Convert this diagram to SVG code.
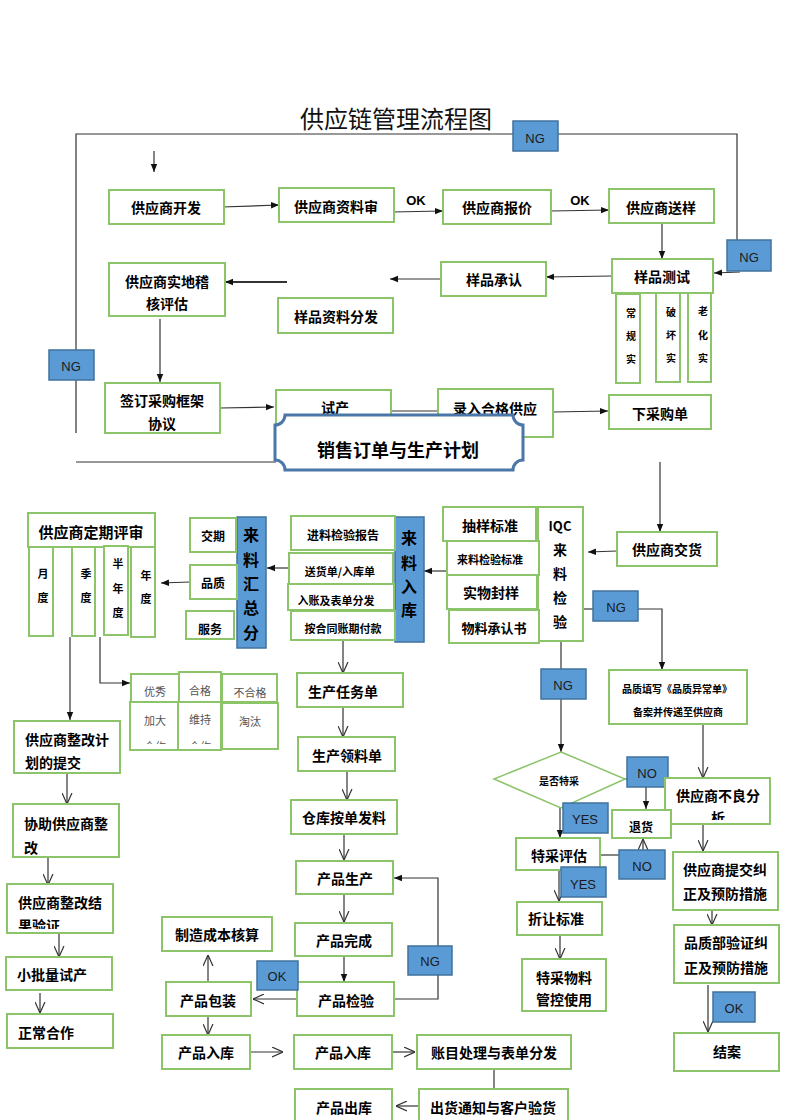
<svg xmlns="http://www.w3.org/2000/svg" width="792" height="1120" viewBox="0 0 792 1120">
<style>
.b{fill:#fff;stroke:#8CC46A;stroke-width:2}
.bl{fill:#5B9BD5;stroke:#41719C;stroke-width:1.5}
.t{font-family:"Noto Sans CJK SC","Noto Sans",sans-serif;font-weight:bold;font-size:14px;fill:#000;text-anchor:middle;dominant-baseline:central}
.s{text-anchor:start}
.f10{font-size:10px}.f11{font-size:11px}.f12{font-size:12px}.f13{font-size:13px}.f15{font-size:15px}.f16{font-size:16px}
.g{font-family:"Noto Sans CJK SC",sans-serif;font-size:11px;fill:#555;text-anchor:middle;dominant-baseline:central}
.n{font-family:"Liberation Sans","Open Sans",sans-serif;font-size:13px;fill:#1a1a1a;text-anchor:middle;dominant-baseline:central}
.c{stroke:#333;stroke-width:1.2;fill:none}
.cf{marker-end:url(#af)}
.co{marker-end:url(#ao)}
</style>
<defs>
<marker id="af" viewBox="0 0 10 10" refX="10" refY="5" markerWidth="8" markerHeight="8" orient="auto" markerUnits="userSpaceOnUse"><path d="M0,1 L10,5 L0,9 z" fill="#111"/></marker>
<marker id="ao" viewBox="0 0 10 10" refX="10" refY="5" markerWidth="11" markerHeight="11" orient="auto" markerUnits="userSpaceOnUse"><path d="M0,0.5 L10,5 L0,9.5" fill="none" stroke="#333" stroke-width="1.1"/></marker>
<clipPath id="k1"><rect x="130" y="702" width="49" height="42"/></clipPath>
<clipPath id="k2"><rect x="178" y="702" width="43" height="42"/></clipPath>
<clipPath id="k3"><rect x="7" y="884" width="106" height="45"/></clipPath>
<clipPath id="k4"><rect x="665" y="778" width="105" height="42"/></clipPath>
</defs>
<rect width="792" height="1120" fill="#fff"/>
<text x="396" y="117" font-family="'Noto Sans CJK SC',sans-serif" font-size="24" fill="#111" text-anchor="middle" dominant-baseline="central">供应链管理流程图</text>

<g id="connectors">
<path class="c" d="M76,433 V134 H737 V240"/>
<path class="c" d="M76,462 H276"/>
<path class="c cf" d="M154,151 V172"/>
<path class="c cf" d="M222,207 L279,205"/>
<path class="c cf" d="M392,212 L443,211"/>
<path class="c cf" d="M551,211 L609,210"/>
<path class="c cf" d="M662,223 V259"/>
<path class="c cf" d="M740,272 L714,273"/>
<path class="c cf" d="M612,276 L546,277"/>
<path class="c cf" d="M441,279 L390,279"/>
<path class="c cf" style="stroke-width:2" d="M287,282 L225,282"/>
<path class="c cf" d="M160,319 V382"/>
<path class="c cf" d="M220,408 L274,407"/>
<path class="c cf" d="M389,411 L445,411"/>
<path class="c cf" d="M553,412 L608,411"/>
<path class="c cf" d="M660,462 V532"/>
<path class="c cf" d="M617,551 L588,552"/>
<path class="c cf" d="M447,571 L424,571"/>
<path class="c cf" d="M289,568 L267,568"/>
<path class="c cf" d="M190,582 L161,583"/>
<path class="c cf" d="M70,637 V720"/>
<path class="c cf" d="M100,637 V683 H130"/>
<path class="c" d="M583,609 H593"/>
<path class="c cf" d="M638,609 H662 V670"/>
<path class="c cf" d="M561,641 V752"/>
<path class="c co" d="M703,724 V778"/>
<path class="c" d="M625,779 H664"/>
<path class="c cf" d="M646,779 V809"/>
<path class="c cf" d="M560,808 V838"/>
<path class="c" d="M600,855 H620"/>
<path class="c co" d="M643,850 V839"/>
<path class="c co" d="M559,870 V901"/>
<path class="c co" d="M560,935 V959"/>
<path class="c co" d="M703,824 V851"/>
<path class="c co" d="M712,910 V925"/>
<path class="c co" d="M708,985 V1032"/>
<path class="c co" d="M343,640 V673"/>
<path class="c co" d="M343,707 V737"/>
<path class="c co" d="M347,771 V800"/>
<path class="c co" d="M344,834 V860"/>
<path class="c co" d="M344,894 V922"/>
<path class="c cf" d="M344,956 V982"/>
<path class="c cf" d="M394,999 H438 V878 H394"/>
<path class="c co" d="M297,999 H253"/>
<path class="c co" d="M208,982 V955"/>
<path class="c co" d="M208,1016 V1035"/>
<path class="c co" d="M250,1052 H283"/>
<path class="c co" d="M392,1052 H415"/>
<path class="c" d="M494,1069 V1089"/>
<path class="c co" d="M419,1106 H396"/>
<path class="c co" d="M67,773 V804"/>
<path class="c co" d="M48,857 V885"/>
<path class="c co" d="M59,933 V957"/>
<path class="c co" d="M40,993 V1013"/>
</g>

<g id="n-kaifa"><rect class="b" x="109" y="190" width="115" height="34"/><text class="t" x="166" y="207">供应商开发</text></g>
<g id="n-ziliao"><rect class="b" x="279" y="188" width="115" height="34"/><text class="t" x="336" y="206">供应商资料审</text></g>
<g id="n-baojia"><rect class="b" x="443" y="190" width="108" height="34"/><text class="t" x="497" y="207">供应商报价</text></g>
<g id="n-songyang"><rect class="b" x="609" y="189" width="105" height="34"/><text class="t" x="661" y="207">供应商送样</text></g>
<g id="n-ceshi"><rect class="b" x="612" y="259" width="101" height="34"/><text class="t" x="662" y="276">样品测试</text></g>
<g id="n-changgui"><rect class="b" x="616" y="294" width="24" height="89"/><text class="t f10" x="631" y="312">常</text><text class="t f10" x="631" y="335">规</text><text class="t f10" x="631" y="358">实</text></g>
<g id="n-pohuai"><rect class="b" x="656" y="293" width="24" height="89"/><text class="t f10" x="671" y="311">破</text><text class="t f10" x="671" y="334">坏</text><text class="t f10" x="671" y="357">实</text></g>
<g id="n-laohua"><rect class="b" x="688" y="293" width="23" height="89"/><text class="t f10" x="703" y="310">老</text><text class="t f10" x="703" y="334">化</text><text class="t f10" x="703" y="357">实</text></g>
<g id="n-chengren"><rect class="b" x="441" y="262" width="105" height="34"/><text class="t" x="494" y="279">样品承认</text></g>
<g id="n-jihe"><rect class="b" x="109" y="263" width="116" height="53"/><text class="t" x="167" y="281">供应商实地稽</text><text class="t" x="167" y="303">核评估</text></g>
<g id="n-fenfa"><rect class="b" x="278" y="298" width="115" height="35"/><text class="t" x="336" y="316">样品资料分发</text></g>
<g id="n-qianding"><rect class="b" x="105" y="383" width="115" height="50"/><text class="t" x="162" y="400">签订采购框架</text><text class="t" x="162" y="423">协议</text></g>
<g id="n-shichan"><rect class="b" x="276" y="390" width="115" height="46"/><text class="t" x="335" y="407">试产</text></g>
<g id="n-luru"><rect class="b" x="438" y="389" width="115" height="48"/><text class="t" x="495" y="408">录入合格供应</text></g>
<g id="n-xiadan"><rect class="b" x="609" y="395" width="102" height="34"/><text class="t" x="660" y="413">下采购单</text></g>
<g id="n-xiaoshou"><path d="M285,415 H513 A10,10 0 0 0 523,425 V460 A10,10 0 0 0 513,470 H285 A10,10 0 0 0 275,460 V425 A10,10 0 0 0 285,415 Z" fill="#fff" stroke="#4A77A8" stroke-width="3"/><text class="t" style="font-size:18px" x="398" y="449">销售订单与生产计划</text></g>

<g id="ng-top"><rect class="bl" x="513" y="121" width="45" height="30"/><text class="n" x="535" y="138">NG</text></g>
<g id="ng-right"><rect class="bl" x="727" y="240" width="44" height="31"/><text class="n" x="749" y="257">NG</text></g>
<g id="ng-left"><rect class="bl" x="49" y="350" width="45" height="30"/><text class="n" x="71" y="366">NG</text></g>

<g id="n-jiaohuo"><rect class="b" x="617" y="532" width="100" height="34"/><text class="t" x="667" y="549">供应商交货</text></g>
<g id="n-iqc"><rect class="b" x="538" y="507" width="45" height="134"/><text class="t f13" x="560" y="525">IQC</text><text class="t" x="560" y="549">来</text><text class="t" x="560" y="573">料</text><text class="t" x="560" y="597">检</text><text class="t" x="560" y="621">验</text></g>
<g id="n-chouyang"><rect class="b" x="443" y="507" width="93" height="34"/><text class="t" x="490" y="525">抽样标准</text></g>
<g id="n-jianyanbz"><rect class="b" x="447" y="541" width="92" height="34"/><text class="t f11" x="490" y="559">来料检验标准</text></g>
<g id="n-fengyang"><rect class="b" x="447" y="575" width="90" height="34"/><text class="t" x="491" y="592">实物封样</text></g>
<g id="n-chengrenshu"><rect class="b" x="449" y="610" width="90" height="33"/><text class="t f13" x="494" y="627">物料承认书</text></g>
<g id="n-ruku"><rect class="bl" x="395" y="517" width="29" height="125"/><text class="t f16" x="409" y="537">来</text><text class="t f16" x="409" y="562">料</text><text class="t f16" x="409" y="586">入</text><text class="t f16" x="409" y="609">库</text></g>
<g id="n-baogao"><rect class="b" x="291" y="516" width="104" height="34"/><text class="t f12" x="343" y="534">进料检验报告</text></g>
<g id="n-songhuo"><rect class="b" x="289" y="553" width="104" height="31"/><text class="t f11" x="340" y="571">送货单/入库单</text></g>
<g id="n-ruzhang"><rect class="b" x="288" y="584" width="106" height="26"/><text class="t f11" x="336" y="600">入账及表单分发</text></g>
<g id="n-fukuan"><rect class="b" x="291" y="611" width="104" height="29"/><text class="t f11" x="343" y="628">按合同账期付款</text></g>
<g id="n-huizong"><rect class="bl" x="237" y="517" width="29" height="131"/><text class="t f16" x="251" y="534">来</text><text class="t f16" x="251" y="559">料</text><text class="t f16" x="251" y="583">汇</text><text class="t f16" x="251" y="607">总</text><text class="t f16" x="251" y="632">分</text></g>
<g id="n-jiaoqi"><rect class="b" x="190" y="518" width="46" height="34"/><text class="t f12" x="213" y="535">交期</text></g>
<g id="n-pinzhi"><rect class="b" x="190" y="565" width="47" height="34"/><text class="t f12" x="213" y="582">品质</text></g>
<g id="n-fuwu"><rect class="b" x="186" y="611" width="48" height="28"/><text class="t f12" x="210" y="628">服务</text></g>
<g id="n-pingshen"><rect class="b" x="28" y="513" width="127" height="34"/><text class="t f15" x="91" y="531">供应商定期评审</text></g>
<g id="n-yuedu"><rect class="b" x="29" y="547" width="24" height="89"/><text class="t f11" x="43" y="573">月</text><text class="t f11" x="43" y="597">度</text></g>
<g id="n-jidu"><rect class="b" x="72" y="547" width="23" height="89"/><text class="t f11" x="86" y="573">季</text><text class="t f11" x="86" y="597">度</text></g>
<g id="n-bannian"><rect class="b" x="104" y="546" width="24" height="89"/><text class="t f11" x="118" y="563">半</text><text class="t f11" x="118" y="588">年</text><text class="t f11" x="118" y="612">度</text></g>
<g id="n-niandu"><rect class="b" x="131" y="547" width="24" height="90"/><text class="t f11" x="146" y="575">年</text><text class="t f11" x="146" y="598">度</text></g>

<g id="n-grid">
<rect class="b" x="131" y="674" width="49" height="29"/><text class="g" x="155" y="691">优秀</text>
<rect class="b" x="222" y="674" width="55" height="28"/><text class="g" x="250" y="692">不合格</text>
<rect class="b" x="130" y="702" width="49" height="48"/><text class="g" x="155" y="720">加大</text><text class="g" x="155" y="746" clip-path="url(#k1)">合作</text>
<rect class="b" x="222" y="703" width="56" height="46"/><text class="g" x="250" y="721">淘汰</text>
<rect class="b" x="179" y="672" width="42" height="30"/><text class="g" x="200" y="690">合格</text>
<rect class="b" x="178" y="702" width="43" height="48"/><text class="g" x="200" y="719">维持</text><text class="g" x="200" y="746" clip-path="url(#k2)">合作</text>
</g>

<g id="n-zhenggaijihua"><rect class="b" x="14" y="721" width="106" height="52"/><text class="t s" x="25" y="739">供应商整改计</text><text class="t s" x="25" y="762">划的提交</text></g>
<g id="n-xiezhu"><rect class="b" x="13" y="804" width="106" height="53"/><text class="t s" x="24" y="823">协助供应商整</text><text class="t s" x="24" y="847">改</text></g>
<g id="n-yanzheng"><rect class="b" x="7" y="884" width="106" height="49"/><text class="t s" x="18" y="902">供应商整改结</text><text class="t s" x="18" y="925" clip-path="url(#k3)">果验证</text></g>
<g id="n-xiaopiliang"><rect class="b" x="6" y="957" width="106" height="33"/><text class="t s" x="17" y="974">小批量试产</text></g>
<g id="n-zhengchang"><rect class="b" x="7" y="1014" width="106" height="34"/><text class="t s" x="18" y="1032">正常合作</text></g>

<g id="n-renwudan"><rect class="b" x="297" y="673" width="106" height="34"/><text class="t" x="343" y="691">生产任务单</text></g>
<g id="n-lingliao"><rect class="b" x="298" y="737" width="97" height="34"/><text class="t" x="347" y="755">生产领料单</text></g>
<g id="n-cangku"><rect class="b" x="291" y="800" width="106" height="34"/><text class="t" x="344" y="817">仓库按单发料</text></g>
<g id="n-shengchan"><rect class="b" x="296" y="861" width="97" height="33"/><text class="t" x="345" y="878">产品生产</text></g>
<g id="n-wancheng"><rect class="b" x="295" y="923" width="97" height="33"/><text class="t" x="344" y="940">产品完成</text></g>
<g id="n-jianyan"><rect class="b" x="297" y="982" width="97" height="34"/><text class="t" x="346" y="1000">产品检验</text></g>
<g id="n-baozhuang"><rect class="b" x="166" y="982" width="85" height="34"/><text class="t" x="208" y="1000">产品包装</text></g>
<g id="n-chengben"><rect class="b" x="162" y="917" width="110" height="34"/><text class="t" x="217" y="934">制造成本核算</text></g>
<g id="n-ruku1"><rect class="b" x="162" y="1035" width="88" height="34"/><text class="t" x="206" y="1052">产品入库</text></g>
<g id="n-ruku2"><rect class="b" x="294" y="1035" width="98" height="34"/><text class="t" x="343" y="1052">产品入库</text></g>
<g id="n-zhangmu"><rect class="b" x="417" y="1035" width="154" height="34"/><text class="t" x="494" y="1052">账目处理与表单分发</text></g>
<g id="n-chuhuo"><rect class="b" x="419" y="1089" width="149" height="36"/><text class="t" x="493" y="1107">出货通知与客户验货</text></g>
<g id="n-chuku"><rect class="b" x="295" y="1089" width="97" height="36"/><text class="t" x="344" y="1107">产品出库</text></g>
<g id="ok-jianyan"><rect class="bl" x="257" y="961" width="41" height="29"/><text class="n" x="277" y="976">OK</text></g>
<g id="ng-jianyan"><rect class="bl" x="408" y="946" width="44" height="29"/><text class="n" x="430" y="961">NG</text></g>

<g id="n-yichang"><rect class="b" x="609" y="670" width="138" height="54"/><text class="t f10" x="677" y="688">品质填写《品质异常单》</text><text class="t f10" x="678" y="711">备案并传递至供应商</text></g>
<g id="n-tecai"><polygon points="561,752 625,779 561,808 494,779" fill="#fff" stroke="#8CC46A" stroke-width="1.5"/><text class="t f10" x="559" y="780">是否特采</text></g>
<g id="no-1"><rect class="bl" x="627" y="757" width="41" height="30"/><text class="n" x="647" y="773">NO</text></g>
<g id="n-buliang"><rect class="b" x="665" y="778" width="105" height="46"/><text class="t" x="718" y="795">供应商不良分</text><text class="t" x="718" y="817" clip-path="url(#k4)">析</text></g>
<g id="n-tuihuo"><rect class="b" x="612" y="810" width="59" height="28"/><text class="t f12" x="641" y="826">退货</text></g>
<g id="n-pinggu"><rect class="b" x="516" y="838" width="84" height="32"/><text class="t" x="559" y="855">特采评估</text></g>
<g id="n-zherang"><rect class="b" x="517" y="902" width="85" height="33"/><text class="t" x="556" y="918">折让标准</text></g>
<g id="n-tecaiwuliao"><rect class="b" x="522" y="959" width="84" height="52"/><text class="t" x="564" y="977">特采物料</text><text class="t" x="564" y="999">管控使用</text></g>
<g id="n-tijiao"><rect class="b" x="673" y="852" width="105" height="58"/><text class="t" x="725" y="869">供应商提交纠</text><text class="t" x="725" y="893">正及预防措施</text></g>
<g id="n-yanzhengjz"><rect class="b" x="674" y="925" width="105" height="58"/><text class="t" x="726" y="942">品质部验证纠</text><text class="t" x="726" y="967">正及预防措施</text></g>
<g id="n-jiean"><rect class="b" x="674" y="1033" width="105" height="38"/><text class="t" x="727" y="1051">结案</text></g>
<g id="ng-iqc"><rect class="bl" x="593" y="591" width="45" height="30"/><text class="n" x="616" y="607">NG</text></g>
<g id="ng-iqc2"><rect class="bl" x="541" y="669" width="45" height="30"/><text class="n" x="563" y="685">NG</text></g>
<g id="yes-1"><rect class="bl" x="563" y="803" width="45" height="30"/><text class="n" x="585" y="819">YES</text></g>
<g id="no-2"><rect class="bl" x="619" y="850" width="46" height="29"/><text class="n" x="642" y="866">NO</text></g>
<g id="yes-2"><rect class="bl" x="561" y="867" width="45" height="30"/><text class="n" x="583" y="884">YES</text></g>
<g id="ok-jiean"><rect class="bl" x="713" y="992" width="42" height="30"/><text class="n" x="734" y="1008">OK</text></g>
<text class="t f13" x="416" y="200" style="font-family:'Liberation Sans',sans-serif">OK</text>
<text class="t f13" x="580" y="200" style="font-family:'Liberation Sans',sans-serif">OK</text>
</svg>
